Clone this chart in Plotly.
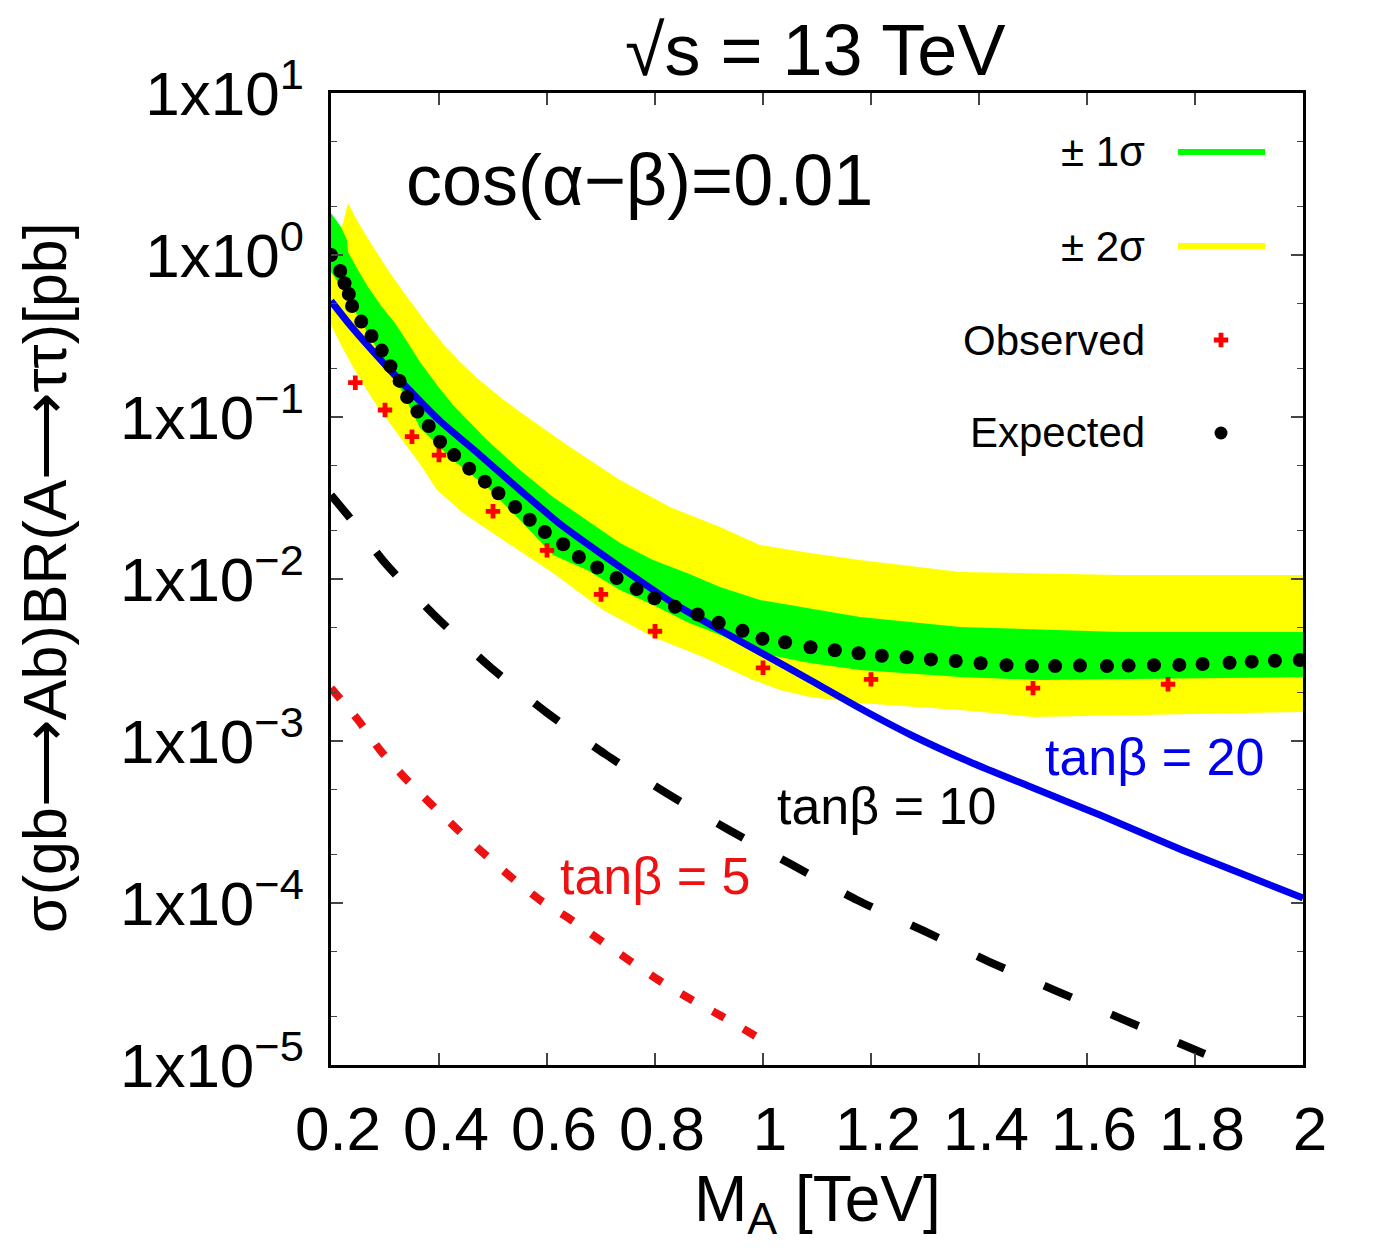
import plotly.graph_objects as go

# ---------------- data ----------------
# Expected limit (black dots)
exp_x = [0.200, 0.217, 0.225, 0.233, 0.239, 0.256, 0.275, 0.294, 0.310, 0.327,
         0.341, 0.360, 0.381, 0.402, 0.428, 0.456, 0.485, 0.510, 0.541, 0.568,
         0.596, 0.630, 0.659, 0.693, 0.729, 0.766, 0.799, 0.837, 0.879, 0.918,
         0.962, 0.999, 1.041, 1.088, 1.133, 1.177, 1.220, 1.266, 1.311, 1.357,
         1.403, 1.451, 1.498, 1.541, 1.587, 1.637, 1.677, 1.724, 1.771, 1.814,
         1.864, 1.905, 1.948, 1.994]
exp_y = [1.000, 0.797, 0.669, 0.574, 0.484, 0.388, 0.316, 0.257, 0.206, 0.167,
         0.133, 0.108, 0.0880, 0.0704, 0.0582, 0.0480, 0.0399, 0.0338, 0.0278, 0.0232,
         0.0195, 0.0164, 0.01367, 0.01178, 0.01014, 0.00868, 0.00761, 0.00674, 0.00604, 0.00537,
         0.00479, 0.00428, 0.00407, 0.00379, 0.00363, 0.00348, 0.00336, 0.00329, 0.00319, 0.00312,
         0.00302, 0.00294, 0.00290, 0.00290, 0.00292, 0.00290, 0.00292, 0.00294, 0.00295, 0.00299,
         0.00304, 0.00309, 0.00313, 0.00316]

# Observed limit (red crosses)
obs_x = [0.245, 0.30, 0.35, 0.40, 0.50, 0.60, 0.70, 0.80, 1.00, 1.20, 1.50, 1.75]
obs_y = [0.1628, 0.1105, 0.0756, 0.0582, 0.02617, 0.01502, 0.00803, 0.00476,
         0.00283, 0.00240, 0.00212, 0.00224]

# +-1 sigma band (green)
g_up_x = [0.200, 0.2185, 0.2296, 0.2315, 0.250, 0.2685, 0.2944, 0.3185, 0.3426, 0.3648,
          0.3963, 0.4259, 0.4889, 0.550, 0.6111, 0.6741, 0.7352, 0.7963, 0.8593, 0.9204,
          0.9944, 1.1796, 1.3648, 1.6611, 2.000]
g_up_y = [1.816, 1.489, 1.238, 1.044, 0.808, 0.635, 0.4775, 0.380, 0.2862, 0.2185,
          0.1576, 0.1186, 0.0721, 0.0471, 0.0321, 0.02313, 0.01668, 0.0131, 0.01089, 0.00893,
          0.00742, 0.00583, 0.00506, 0.00471, 0.00471]
g_lo_x = [0.200, 0.2167, 0.2407, 0.2722, 0.3037, 0.3333, 0.3648, 0.4259, 0.4889, 0.550,
          0.6111, 0.6741, 0.7352, 0.7963, 0.8593, 0.9204, 0.9944, 1.087, 1.1796, 1.3648,
          1.513, 2.000]
g_lo_y = [0.785, 0.653, 0.4775, 0.3118, 0.2094, 0.1406, 0.0855, 0.0543, 0.03697, 0.02313,
          0.01406, 0.01136, 0.00855, 0.00691, 0.00543, 0.00451, 0.00349, 0.00303, 0.00274, 0.00248,
          0.00238, 0.00248]

# +-2 sigma band (yellow)
y_up_x = [0.2315, 0.250, 0.2759, 0.3056, 0.3315, 0.3556, 0.3796, 0.4111, 0.4389, 0.4704,
          0.5130, 0.550, 0.6426, 0.7352, 0.8278, 0.9204, 0.9944, 1.087, 1.1796, 1.3648,
          1.6611, 2.000]
y_up_y = [2.094, 1.598, 1.153, 0.808, 0.608, 0.4708, 0.3697, 0.2744, 0.2185, 0.174,
          0.1329, 0.1074, 0.0653, 0.0408, 0.0278, 0.02094, 0.01622, 0.01447, 0.01310, 0.01105,
          0.01059, 0.01059]
y_lo_x = [0.200, 0.200, 0.2204, 0.2407, 0.2778, 0.3222, 0.3648, 0.3963, 0.4444, 0.5185,
          0.6111, 0.7037, 0.7963, 0.8889, 0.9815, 1.0315, 1.087, 1.1796, 1.3648, 1.500, 2.000]
y_lo_y = [0.808, 0.370, 0.2704, 0.2035, 0.1273, 0.0797, 0.0513, 0.0354, 0.02555, 0.0174,
          0.01089, 0.00644, 0.00438, 0.0033, 0.00238, 0.002065, 0.00187, 0.001716, 0.001554, 0.001406, 0.00151]

# tan(beta) = 20 (blue solid)
t20_x = [0.200, 0.2352, 0.2722, 0.3093, 0.3556, 0.4019, 0.4759, 0.550, 0.6241, 0.7352,
         0.8333, 0.9204, 0.9944, 1.087, 1.1889, 1.2778, 1.3833, 1.4963, 1.6241, 1.7759,
         1.9019, 2.000]
t20_y = [0.520, 0.3697, 0.2667, 0.1950, 0.1348, 0.0945, 0.0582, 0.0354, 0.02185, 0.01186,
         0.00711, 0.00484, 0.00354, 0.00238, 0.001532, 0.001074, 0.000742, 0.000520, 0.000349, 0.0002125,
         0.0001446, 0.0001074]

# tan(beta) = 10 (black dashed)
t10_x = [0.200, 0.2352, 0.300, 0.3926, 0.4926, 0.5981, 0.7074, 0.8204, 0.937, 1.0537,
         1.174, 1.298, 1.420, 1.5426, 1.6685, 1.818]
t10_y = [0.0330, 0.0238, 0.01256, 0.00592, 0.00290, 0.00151, 0.000831, 0.000478, 0.000282, 0.000172,
         0.0001044, 0.0000672, 0.0000432, 0.0000287, 0.0000190, 0.0000117]

# tan(beta) = 5 (red dotted)
t5_x = [0.200, 0.250, 0.2907, 0.3352, 0.3852, 0.4333, 0.4815, 0.5333, 0.587, 0.6426,
        0.698, 0.7537, 0.8093, 0.8685, 0.9259, 0.9981]
t5_y = [0.00212, 0.00135, 0.000880, 0.000600, 0.000408, 0.000286, 0.000204, 0.0001446, 0.0001044, 0.0000796,
        0.0000591, 0.0000439, 0.0000330, 0.0000252, 0.0000198, 0.0000143]

x_ticks = [0.2, 0.4, 0.6, 0.8, 1.0, 1.2, 1.4, 1.6, 1.8, 2.0]
x_ticktext = ["0.2", "0.4", "0.6", "0.8", "1", "1.2", "1.4", "1.6", "1.8", "2"]
y_ticks = [1e-5, 1e-4, 1e-3, 1e-2, 1e-1, 1e0, 1e1]
y_ticktext = ["1x10<sup>−5</sup>", "1x10<sup>−4</sup>", "1x10<sup>−3</sup>", "1x10<sup>−2</sup>",
              "1x10<sup>−1</sup>", "1x10<sup>0</sup>", "1x10<sup>1</sup>"]

FONT = "Liberation Sans, Arial, Helvetica, sans-serif"
OFF = 8  # default page body margin
W, H = 1376 - OFF, 1259 - OFF
L, R, T, B = 331 - OFF, 73, 93 - OFF, 194
PW, PH = W - L - R, H - T - B


def px2paper(px, py):
    return (px - OFF - L) / PW, (H - B - (py - OFF)) / PH


fig = go.Figure()

# bands
fig.add_trace(go.Scatter(x=y_up_x + y_lo_x[::-1], y=y_up_y + y_lo_y[::-1], mode="lines",
                         fill="toself", fillcolor="#ffff00", line=dict(width=0),
                         hoverinfo="skip", showlegend=False))
fig.add_trace(go.Scatter(x=g_up_x + g_lo_x[::-1], y=g_up_y + g_lo_y[::-1], mode="lines",
                         fill="toself", fillcolor="#00ff00", line=dict(width=0),
                         hoverinfo="skip", showlegend=False))

# model curves
fig.add_trace(go.Scatter(x=t5_x, y=t5_y, mode="lines", line_shape="spline",
                         line=dict(color="#ee1111", width=8, dash="14px,22px", smoothing=0.6),
                         showlegend=False))
fig.add_trace(go.Scatter(x=t10_x, y=t10_y, mode="lines", line_shape="spline",
                         line=dict(color="black", width=8, dash="30px,43px", smoothing=0.6),
                         showlegend=False))
fig.add_trace(go.Scatter(x=t20_x, y=t20_y, mode="lines", line_shape="spline",
                         line=dict(color="#0000ee", width=7, smoothing=0.6), showlegend=False))

# limits
fig.add_trace(go.Scatter(x=obs_x, y=obs_y, mode="markers",
                         marker=dict(symbol="cross", size=12, color="#ff0000", line=dict(width=0)),
                         showlegend=False))
fig.add_trace(go.Scatter(x=exp_x, y=exp_y, mode="markers",
                         marker=dict(symbol="circle", size=14, color="black", line=dict(width=0)),
                         showlegend=False))

# legend symbols on an overlay axis in [0,1]
lx0, ly1 = px2paper(1178, 152)
lx1, _ = px2paper(1265, 152)
_, ly2 = px2paper(1178, 246)
mx, ly3 = px2paper(1221, 340)
_, ly4 = px2paper(1221, 433)
fig.add_trace(go.Scatter(x=[lx0, lx1], y=[ly1, ly1], mode="lines", line=dict(color="#00ff00", width=6),
                         xaxis="x2", yaxis="y2", showlegend=False, hoverinfo="skip"))
fig.add_trace(go.Scatter(x=[lx0, lx1], y=[ly2, ly2], mode="lines", line=dict(color="#ffff00", width=6),
                         xaxis="x2", yaxis="y2", showlegend=False, hoverinfo="skip"))
fig.add_trace(go.Scatter(x=[mx], y=[ly3], mode="markers",
                         marker=dict(symbol="cross", size=12, color="#ff0000", line=dict(width=0)),
                         xaxis="x2", yaxis="y2", showlegend=False, hoverinfo="skip"))
fig.add_trace(go.Scatter(x=[mx], y=[ly4], mode="markers",
                         marker=dict(symbol="circle", size=13, color="black", line=dict(width=0)),
                         xaxis="x2", yaxis="y2", showlegend=False, hoverinfo="skip"))

annotations = []
for txt, py in [("± 1σ", 152), ("± 2σ", 246), ("Observed", 340), ("Expected", 433)]:
    ax, ay = px2paper(1147, py)
    annotations.append(dict(x=ax, y=ay, xref="paper", yref="paper", text=txt, showarrow=False,
                            xanchor="right", yanchor="middle", font=dict(size=42, color="black", family=FONT)))

# curve labels (data coordinates; y in log10 units)
annotations += [
    dict(x=1.725, y=-3.099, xref="x", yref="y", text="tanβ = 20", showarrow=False,
         font=dict(size=52, color="#0000ee", family=FONT)),
    dict(x=1.228, y=-3.401, xref="x", yref="y", text="tanβ = 10", showarrow=False,
         font=dict(size=52, color="black", family=FONT)),
    dict(x=0.800, y=-3.833, xref="x", yref="y", text="tanβ = 5", showarrow=False,
         font=dict(size=52, color="#ee1111", family=FONT)),
    dict(x=0.772, y=0.463, xref="x", yref="y", text="cos(α−β)=0.01", showarrow=False,
         font=dict(size=72, color="black", family=FONT)),
]
tx, ty = px2paper(815, 50)
annotations.append(dict(x=tx, y=ty, xref="paper", yref="paper", text="√s = 13 TeV", showarrow=False,
                        xanchor="center", yanchor="middle", font=dict(size=72, color="black", family=FONT)))
xx, xy = px2paper(817, 1203)
annotations.append(dict(x=xx, y=xy, xref="paper", yref="paper", text="M<sub>A</sub> [TeV]", showarrow=False,
                        xanchor="center", yanchor="middle", font=dict(size=64, color="black", family=FONT)))
yx, yy = px2paper(45, 578)
annotations.append(dict(x=yx, y=yy, xref="paper", yref="paper", text="σ(gb⟶Ab)BR(A⟶ττ)[pb]",
                        showarrow=False, textangle=-90, xanchor="center", yanchor="middle",
                        font=dict(size=61, color="black", family=FONT)))

fig.update_layout(
    width=W, height=H,
    margin=dict(l=L, r=R, t=T, b=B, pad=0),
    paper_bgcolor="white", plot_bgcolor="white",
    font=dict(family=FONT, color="black"),
    showlegend=False,
    annotations=annotations,
    xaxis=dict(range=[0.2, 2.0], tickvals=x_ticks, ticktext=x_ticktext,
               ticks="inside", ticklen=12, tickwidth=1.5, tickcolor="#444",
               showline=True, linewidth=2.5, linecolor="black", mirror="allticks",
               showgrid=False, zeroline=False, tickfont=dict(size=62, family=FONT),
               ticklabelstandoff=8, ticklabelshift=7),
    yaxis=dict(type="log", range=[-5, 1], tickvals=y_ticks, ticktext=y_ticktext,
               ticks="inside", ticklen=12, tickwidth=1.5, tickcolor="#444",
               showline=True, linewidth=2.5, linecolor="black", mirror="allticks",
               showgrid=False, zeroline=False, tickfont=dict(size=62, family=FONT),
               ticklabelstandoff=12,
               minor=dict(ticks="inside", ticklen=6, tickwidth=1.2, tickcolor="#444", showgrid=False)),
    xaxis2=dict(range=[0, 1], overlaying="x", visible=False, fixedrange=True),
    yaxis2=dict(range=[0, 1], overlaying="y", visible=False, fixedrange=True),
)

fig.write_html("out.html")
